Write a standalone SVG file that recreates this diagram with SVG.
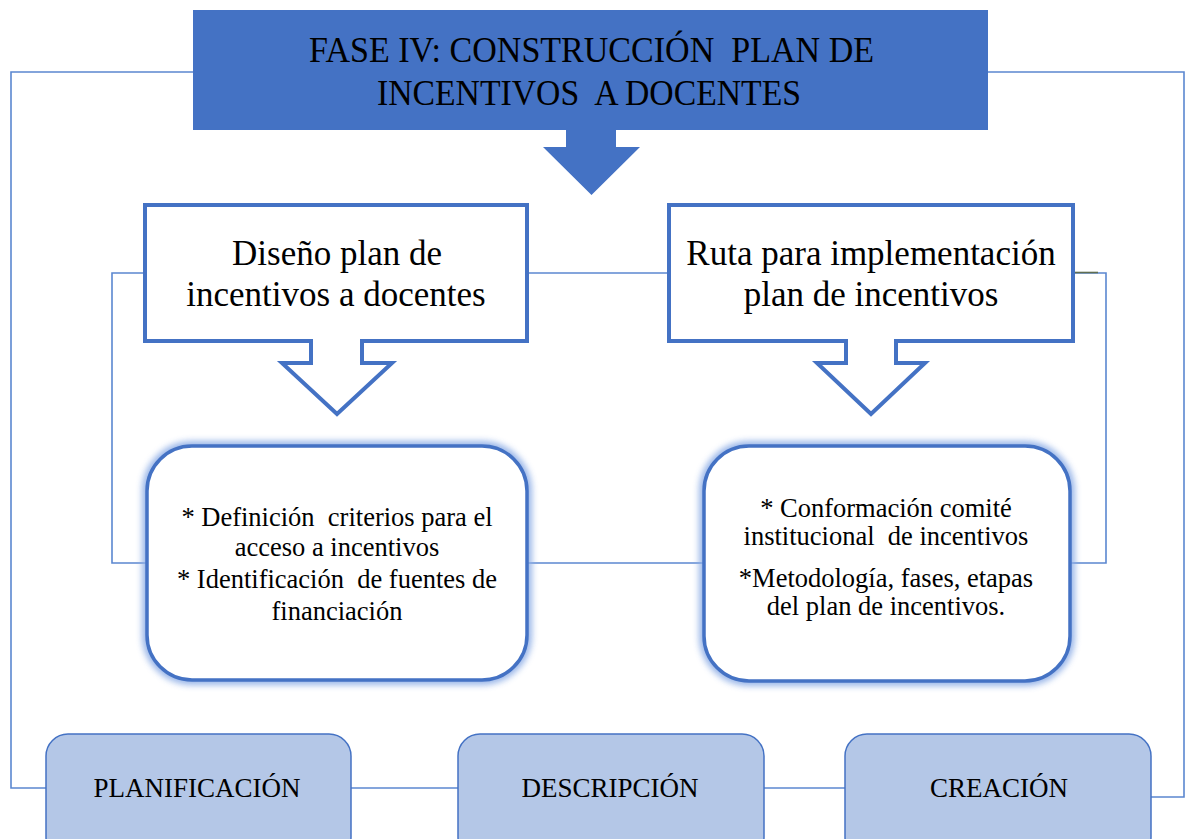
<svg xmlns="http://www.w3.org/2000/svg" width="1186" height="839" viewBox="0 0 1186 839">
<style>
.conn{fill:none;stroke:#5B87D0;stroke-width:1.6}
.callout{fill:#fff;stroke:#4472C4;stroke-width:4;stroke-linejoin:miter}
.rbox{fill:#fff;stroke:#4472C4;stroke-width:3.5}
.glow{fill:none;stroke:#8EAEE6;stroke-width:10;opacity:0.9}
.step{fill:#B4C7E7;stroke:#4472C4;stroke-width:1.5}
text{font-family:"Liberation Serif","Times New Roman",serif;fill:#000;text-anchor:middle;white-space:pre}
.t1{font-size:36px}
.t2{font-size:35px}
.t3{font-size:26.5px}
.t4{font-size:27px}
</style>
<defs>
<filter id="blur" x="-10%" y="-10%" width="120%" height="120%"><feGaussianBlur stdDeviation="3"/></filter>
</defs>
<rect width="1186" height="839" fill="#fff"/>
<g id="connectors">
<path class="conn" d="M193,72 H11 V788 H46"/>
<path class="conn" d="M988,72 H1184 V797 H1151"/>
<path class="conn" d="M145,273 H112 V563 H148"/>
<path class="conn" d="M527,273 H669"/>
<path class="conn" d="M1073,273 H1106 V563 H1070"/>
<path d="M1074,272.5 H1098" stroke="#5F6E52" stroke-width="1.6"/>
<path class="conn" d="M527,563 H705"/>
<path class="conn" d="M351,788 H458"/>
<path class="conn" d="M764,788 H845"/>
</g>
<g id="fase">
<path d="M193,10 H988 V130 H616 V147 H640 L591.5,195 L543,147 H566 V130 H193 Z" fill="#4472C4"/>
<text class="t1" x="591.5" y="62" textLength="565" lengthAdjust="spacingAndGlyphs">FASE IV: CONSTRUCCIÓN  PLAN DE</text>
<text class="t1" x="589" y="105" textLength="424" lengthAdjust="spacingAndGlyphs">INCENTIVOS  A DOCENTES</text>
</g>
<g id="diseno">
<path class="callout" d="M145,205 H527 V341 H362 V363 H392 L337,414 L282,363 H311 V341 H145 Z"/>
<text class="t2" x="337" y="265">Diseño plan de</text>
<text class="t2" x="336" y="306">incentivos a docentes</text>
</g>
<g id="ruta">
<path class="callout" d="M669,205 H1073 V341 H896 V363 H925 L871,414 L817,363 H846 V341 H669 Z"/>
<text class="t2" x="871" y="265">Ruta para implementación</text>
<text class="t2" x="871" y="306">plan de incentivos</text>
</g>
<g id="criterios">
<rect class="glow" x="147" y="446" width="380" height="234" rx="45" filter="url(#blur)"/>
<rect class="rbox" x="147" y="446" width="380" height="234" rx="45"/>
<text class="t3" x="337" y="526">* Definición  criterios para el</text>
<text class="t3" x="337" y="556">acceso a incentivos</text>
<text class="t3" x="337" y="588">* Identificación  de fuentes de</text>
<text class="t3" x="337" y="620">financiación</text>
</g>
<g id="comite">
<rect class="glow" x="704" y="446" width="366" height="235" rx="45" filter="url(#blur)"/>
<rect class="rbox" x="704" y="446" width="366" height="235" rx="45"/>
<text class="t3" x="886" y="517">* Conformación comité</text>
<text class="t3" x="886" y="545">institucional  de incentivos</text>
<text class="t3" x="886" y="587">*Metodología, fases, etapas</text>
<text class="t3" x="886" y="615">del plan de incentivos.</text>
</g>
<g id="planificacion">
<rect class="step" x="46" y="734" width="305" height="125" rx="22"/>
<text class="t4" x="197" y="797">PLANIFICACIÓN</text>
</g>
<g id="descripcion">
<rect class="step" x="458" y="734" width="306" height="125" rx="22"/>
<text class="t4" x="610" y="797">DESCRIPCIÓN</text>
</g>
<g id="creacion">
<rect class="step" x="845" y="734" width="306" height="125" rx="22"/>
<text class="t4" x="999" y="797">CREACIÓN</text>
</g>
</svg>
